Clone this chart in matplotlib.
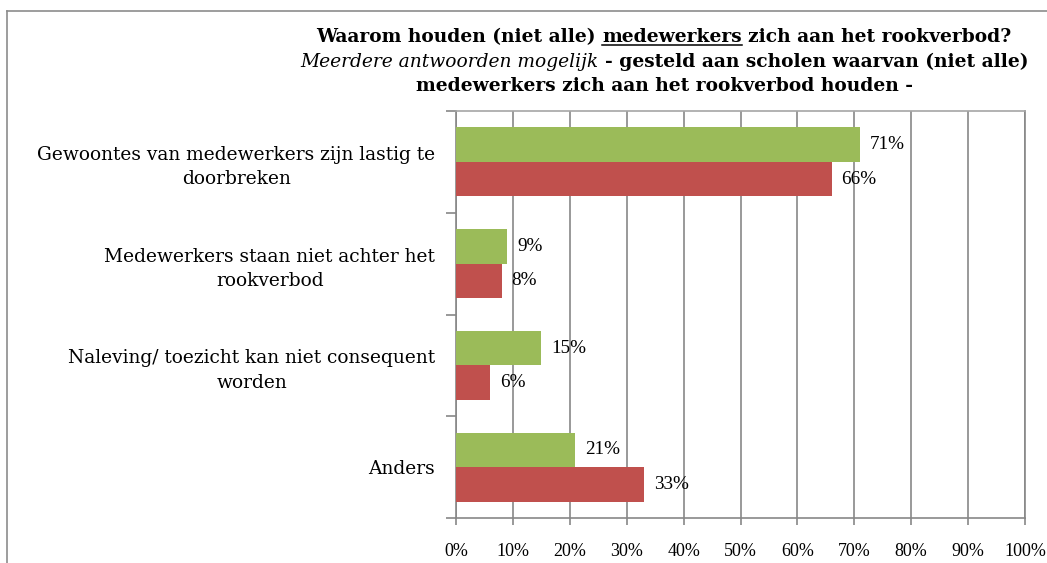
import numpy as np
import matplotlib
matplotlib.use("Agg")
import matplotlib.pyplot as plt
from matplotlib.lines import Line2D

# Gegevens uit de grafiek
categorieen = [
    "Gewoontes van medewerkers zijn lastig te\ndoorbreken",
    "Medewerkers staan niet achter het\nrookverbod",
    "Naleving/ toezicht kan niet consequent\nworden",
    "Anders",
]
waarden_groen = [71, 9, 15, 21]
waarden_rood = [66, 8, 6, 33]
x_ticks = [0, 10, 20, 30, 40, 50, 60, 70, 80, 90, 100]

GROEN = "#9BBB59"
ROOD = "#C0504D"
GRIJS = "#878787"
FONT = "DejaVu Serif"
CIJFERFONT = "Liberation Serif"
FS = 13.4
NFS = 13  # as-labels
DFS = 13.8  # datalabels

W, H = 1047, 563
fig = plt.figure(figsize=(W / 100, H / 100), dpi=100)
plt.rcParams["font.family"] = FONT

# plotgebied in pixels: links 456, rechts 1025, boven 111, onder 518
ax = fig.add_axes([456 / W, 1 - 518 / H, 569 / W, 407 / H])

y = np.arange(len(categorieen))
hoogte = 0.34
ax.barh(y - hoogte / 2, waarden_groen, height=hoogte, color=GROEN, zorder=3)
ax.barh(y + hoogte / 2, waarden_rood, height=hoogte, color=ROOD, zorder=3)

for i in range(len(categorieen)):
    ax.annotate(f"{waarden_groen[i]}%", (waarden_groen[i], y[i] - hoogte / 2),
                xytext=(10, 0), textcoords="offset pixels", va="center",
                ha="left", fontsize=DFS, family=CIJFERFONT, zorder=4)
    ax.annotate(f"{waarden_rood[i]}%", (waarden_rood[i], y[i] + hoogte / 2),
                xytext=(10, 0), textcoords="offset pixels", va="center",
                ha="left", fontsize=DFS, family=CIJFERFONT, zorder=4)

ax.set_xlim(0, 100)
ax.set_ylim(len(categorieen) - 0.5, -0.5)

ax.set_xticks(x_ticks)
ax.set_xticklabels([f"{v}%" for v in x_ticks], fontsize=NFS, family=CIJFERFONT)
ax.tick_params(axis="x", length=5, width=1.2, color=GRIJS, pad=13)
ax.xaxis.grid(True, color=GRIJS, linewidth=1.2, zorder=0)

# grote ticks op de grenzen, labels op de midden
ax.set_yticks(np.arange(len(categorieen) + 1) - 0.5)
ax.set_yticklabels([])
ax.set_yticks(y, minor=True)
ax.set_yticklabels(categorieen, minor=True, fontsize=FS, family=FONT)
ax.tick_params(axis="y", which="major", length=7, width=1.2, color=GRIJS)
ax.tick_params(axis="y", which="minor", length=0, pad=15)
for lab in ax.get_yticklabels(minor=True):
    lab.set_multialignment("center")
    lab.set_linespacing(1.45)

for kant in ["left", "bottom", "right"]:
    ax.spines[kant].set_color(GRIJS)
    ax.spines[kant].set_linewidth(1.2)
ax.spines["top"].set_color("#a6a6a6")
ax.spines["top"].set_linewidth(1.2)

# rand om de figuur
fig.add_artist(Line2D([7 / W, 1], [1 - 11 / H, 1 - 11 / H], color="#8c8c8c", lw=1.2))
fig.add_artist(Line2D([7 / W, 7 / W], [0, 1 - 11 / H], color="#8c8c8c", lw=1.2))

# titel met gemengde stijlen
renderer = fig.canvas.get_renderer()
TFS = 13.4


def breedte(tekst, **kw):
    t = fig.text(0, 0, tekst, fontsize=TFS, family=FONT, **kw)
    b = t.get_window_extent(renderer).width
    t.remove()
    return b


regels = [
    (42, [("Waarom houden (niet alle)", "normal", "bold", False),
          ("medewerkers", "normal", "bold", True),
          ("zich aan het rookverbod?", "normal", "bold", False)]),
    (67, [("Meerdere antwoorden mogelijk", "italic", "normal", False),
          ("- gesteld aan scholen waarvan (niet alle)", "normal", "bold", False)]),
    (91, [("medewerkers zich aan het rookverbod houden -", "normal", "bold", False)]),
]
midden = 664
for basis, delen in regels:
    maten = [breedte(d[0], style=d[1], weight=d[2]) for d in delen]
    spatie = breedte("x x", weight="bold") - breedte("xx", weight="bold")
    totaal = sum(maten) + spatie * (len(delen) - 1)
    x = midden - totaal / 2
    for (tekst, stijl, gewicht, onder), m in zip(delen, maten):
        fig.text(x / W, 1 - basis / H, tekst, fontsize=TFS, family=FONT,
                 style=stijl, weight=gewicht, va="baseline", ha="left")
        if onder:
            fig.add_artist(Line2D([x / W, (x + m) / W],
                                  [1 - (basis + 3) / H, 1 - (basis + 3) / H],
                                  color="black", lw=1.1))
        x += m + spatie

fig.savefig("out.png", dpi=100)
